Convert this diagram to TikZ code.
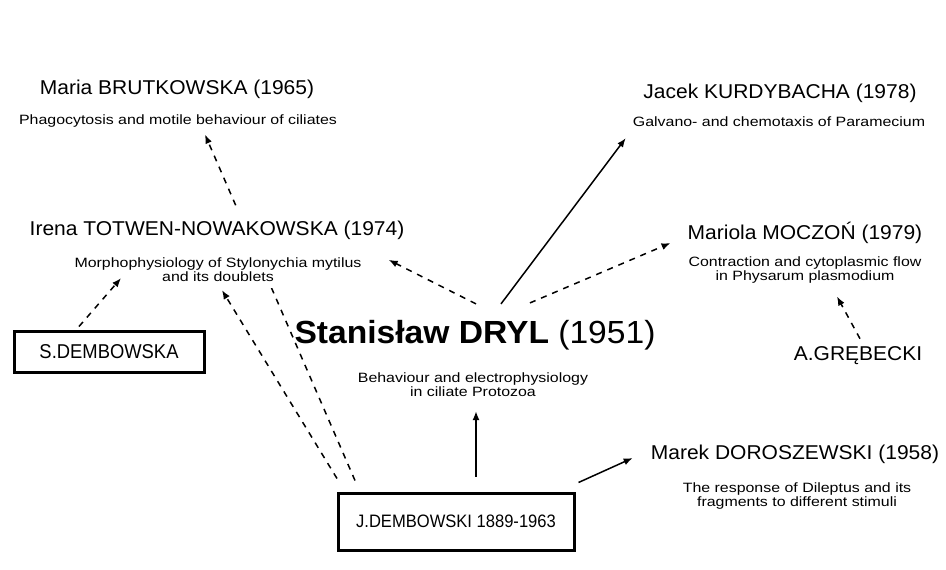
\documentclass[tikz,border=0pt]{standalone}
\usepackage{fontspec}
\setmainfont{Liberation Sans}
\newfontfamily\namefont[FakeStretch=1.05]{Liberation Sans}
\newfontfamily\topicfont[FakeStretch=1.18]{Liberation Sans}
\newfontfamily\boxfont[FakeStretch=0.92]{Liberation Sans}
\usetikzlibrary{arrows.meta,backgrounds}

\begin{document}
\begin{tikzpicture}[x=1pt,y=-1pt,
    person/.style={inner sep=1pt,font=\namefont\fontsize{20}{22}\selectfont},
    topic/.style={inner sep=1pt,align=center,font=\topicfont\fontsize{13.5}{14}\selectfont},
    teacher/.style={draw,line width=3pt,inner sep=0pt,font=\boxfont\fontsize{20}{22}\selectfont},
    link/.style={line width=1.5pt,-{Latex[length=9pt,width=7pt]}},
    weak/.style={link,dash pattern=on 6pt off 6pt}]
  \useasboundingbox (0,0) rectangle (946,570);

  \node[person] (bk) at (177,89) {Maria BRUTKOWSKA (1965)};
  \node[topic] (bksub) at (178,121) {Phagocytosis and motile behaviour of ciliates};
  \node[person,fill=white,inner ysep=12pt] (tn) at (217,230) {Irena TOTWEN-NOWAKOWSKA (1974)};
  \node[topic,fill=white,inner ysep=6pt] (tnsub) at (218,270) {Morphophysiology of Stylonychia mytilus\\and its doublets};
  \node[person] (kb) at (780,93) {Jacek KURDYBACHA (1978)};
  \node[topic] (kbsub) at (779,122) {Galvano- and chemotaxis of Paramecium};
  \node[person] (mc) at (805,233) {Mariola MOCZOŃ (1979)};
  \node[topic] (mcsub) at (805,270) {Contraction and cytoplasmic flow\\in Physarum plasmodium};
  \node[person,font=\namefont\fontsize{32}{36}\selectfont] (dryl) at (475,335) {\textbf{Stanisław DRYL} (1951)};
  \node[topic] (drylsub) at (473,385) {Behaviour and electrophysiology\\in ciliate Protozoa};
  \node[person] (ds) at (795,454) {Marek DOROSZEWSKI (1958)};
  \node[topic] (dssub) at (797,496) {The response of Dileptus and its\\fragments to different stimuli};
  \node[teacher,minimum width=190pt,minimum height=41pt] (sdem) at (109,351.5) {S.DEMBOWSKA};
  \node[teacher,minimum width=236pt,minimum height=57pt] (jd) at (456,521.5) {\fontsize{18}{20}\selectfont J.DEMBOWSKI 1889-1963};
  \node[person] (gr) at (858,356) {A.GRĘBECKI};

  \begin{pgfonlayer}{background}
    \draw[weak] ([xshift=-101pt,yshift=11pt]jd.north) -- ([xshift=27pt,yshift=-6pt]bksub.south);
  \end{pgfonlayer}
  \draw[weak] ([xshift=-119pt,yshift=13pt]jd.north) -- ([xshift=4pt,yshift=-2pt]tnsub.south);
  \draw[weak] ([xshift=-30pt,yshift=3pt]sdem.north) -- ([xshift=-97pt,yshift=10pt]tnsub.south);
  \draw[weak] ([xshift=1pt,yshift=15pt]dryl.north) -- ([xshift=26pt,yshift=-8pt]tnsub.north east);
  \draw[link] ([xshift=26pt,yshift=15pt]dryl.north) -- ([xshift=-6pt,yshift=-10pt]kbsub.south west);
  \draw[weak] ([xshift=55pt,yshift=16pt]dryl.north) -- ([xshift=-16pt,yshift=-10pt]mc.west);
  \draw[weak] ([xshift=2pt,yshift=7pt]gr.north) -- ([xshift=32pt,yshift=-12pt]mcsub.south);
  \draw[link] ([xshift=20pt,yshift=15pt]jd.north) -- ([xshift=3pt,yshift=-13pt]drylsub.south);
  \draw[link] ([xshift=3pt,yshift=9pt]jd.north east) -- ([xshift=-17pt,yshift=-4pt]ds.west);
\end{tikzpicture}
\end{document}
